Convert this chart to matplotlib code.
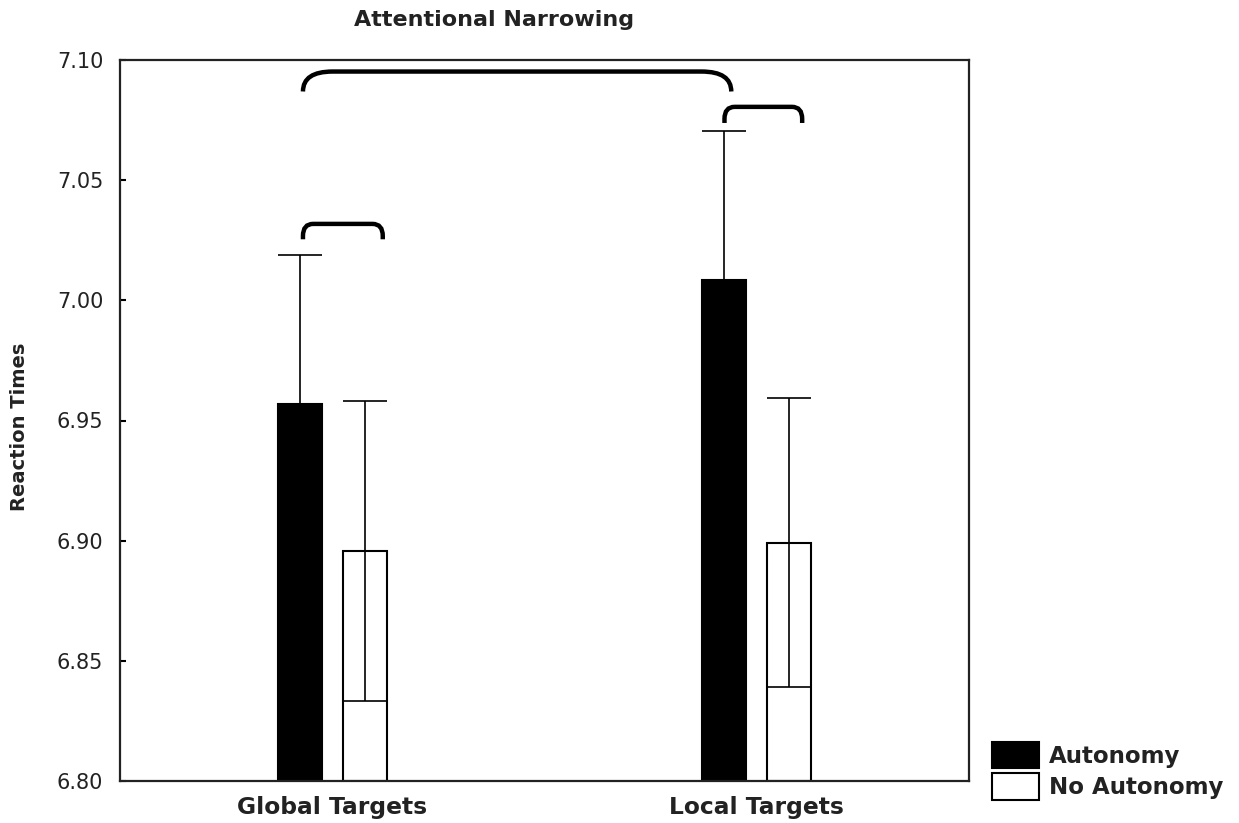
import matplotlib.pyplot as plt
import numpy as np
from matplotlib.path import Path
from matplotlib.patches import PathPatch, Patch

# Reaction times (log) per target type
targets = ['Global Targets', 'Local Targets']
autonomy = [6.9567, 7.0085]
no_autonomy = [6.8958, 6.8992]
err_autonomy = [0.0623, 0.0620]
err_no_autonomy = [0.0624, 0.0600]

base = 6.80
x = np.arange(len(targets))
w = 0.1035
off = 0.0765

fig = plt.figure(figsize=(12.39, 8.23), dpi=100)
ax = fig.add_axes([120/1239, 1-781/823, (969-120)/1239, (781-60)/823])

txt = '#222222'

ax.bar(x - off, np.array(autonomy) - base, w, bottom=base, color='black',
       edgecolor='black', linewidth=1.5, zorder=2)
ax.bar(x + off, np.array(no_autonomy) - base, w, bottom=base, color='white',
       edgecolor='black', linewidth=1.5, zorder=2)
ax.errorbar(x - off, autonomy, yerr=err_autonomy, fmt='none', ecolor='black',
            elinewidth=1.2, capsize=15.5, capthick=1.2, zorder=3)
ax.errorbar(x + off, no_autonomy, yerr=err_no_autonomy, fmt='none', ecolor='black',
            elinewidth=1.2, capsize=15.5, capthick=1.2, zorder=3)


def bracket(ax, x0, x1, y, drop, rx, ry):
    verts = [(x0, y - drop), (x0, y - ry), (x0, y), (x0 + rx, y),
             (x1 - rx, y), (x1, y), (x1, y - ry), (x1, y - drop)]
    codes = [Path.MOVETO, Path.LINETO, Path.CURVE3, Path.CURVE3,
             Path.LINETO, Path.CURVE3, Path.CURVE3, Path.LINETO]
    ax.add_patch(PathPatch(Path(verts, codes), facecolor='none',
                           edgecolor='black', lw=3.2, capstyle='butt',
                           zorder=4, clip_on=False))


# significance brackets
bracket(ax, -0.069, 0.940, 7.0952, 0.0083, 0.070, 0.0083)
bracket(ax, -0.069, 0.119, 7.0318, 0.0064, 0.024, 0.0050)
bracket(ax, 0.924, 1.107, 7.0805, 0.0067, 0.024, 0.0050)

ax.set_xlim(-0.5, 1.5)
ax.set_ylim(6.80, 7.10)
ax.set_yticks(np.arange(6.80, 7.101, 0.05))
ax.set_yticklabels(['%.2f' % v for v in np.arange(6.80, 7.101, 0.05)])
ax.set_xticks(x)
ax.set_xticklabels(targets, fontweight='bold')
ax.tick_params(axis='y', direction='in', length=4, width=1.5, pad=12,
               labelsize=15, labelcolor=txt)
ax.tick_params(axis='x', length=0, pad=11, labelsize=16.8, labelcolor=txt)
for s in ax.spines.values():
    s.set_linewidth(1.6)
    s.set_color('#222222')

fig.text(494/1239, 1 - 20/823, 'Attentional Narrowing', ha='center', va='center',
         fontsize=16, fontweight='bold', color=txt)
fig.text(20/1239, 1 - 427/823, 'Reaction Times', ha='center', va='center',
         rotation=90, fontsize=14, fontweight='bold', color=txt)

handles = [Patch(facecolor='black', edgecolor='black', linewidth=1.5, label='Autonomy'),
           Patch(facecolor='white', edgecolor='black', linewidth=1.5, label='No Autonomy')]
fs = 16.5
fpx = fs * 100 / 72
leg = fig.legend(handles=handles, loc='upper left', bbox_to_anchor=(992/1239, 1 - 742/823),
                 frameon=False, borderpad=0, borderaxespad=0, handlelength=47/fpx,
                 handleheight=1.4, labelspacing=0.2, handletextpad=10/fpx,
                 prop={'size': fs, 'weight': 'bold'})
for t in leg.get_texts():
    t.set_color(txt)

fig.savefig('out.png', dpi=100)
